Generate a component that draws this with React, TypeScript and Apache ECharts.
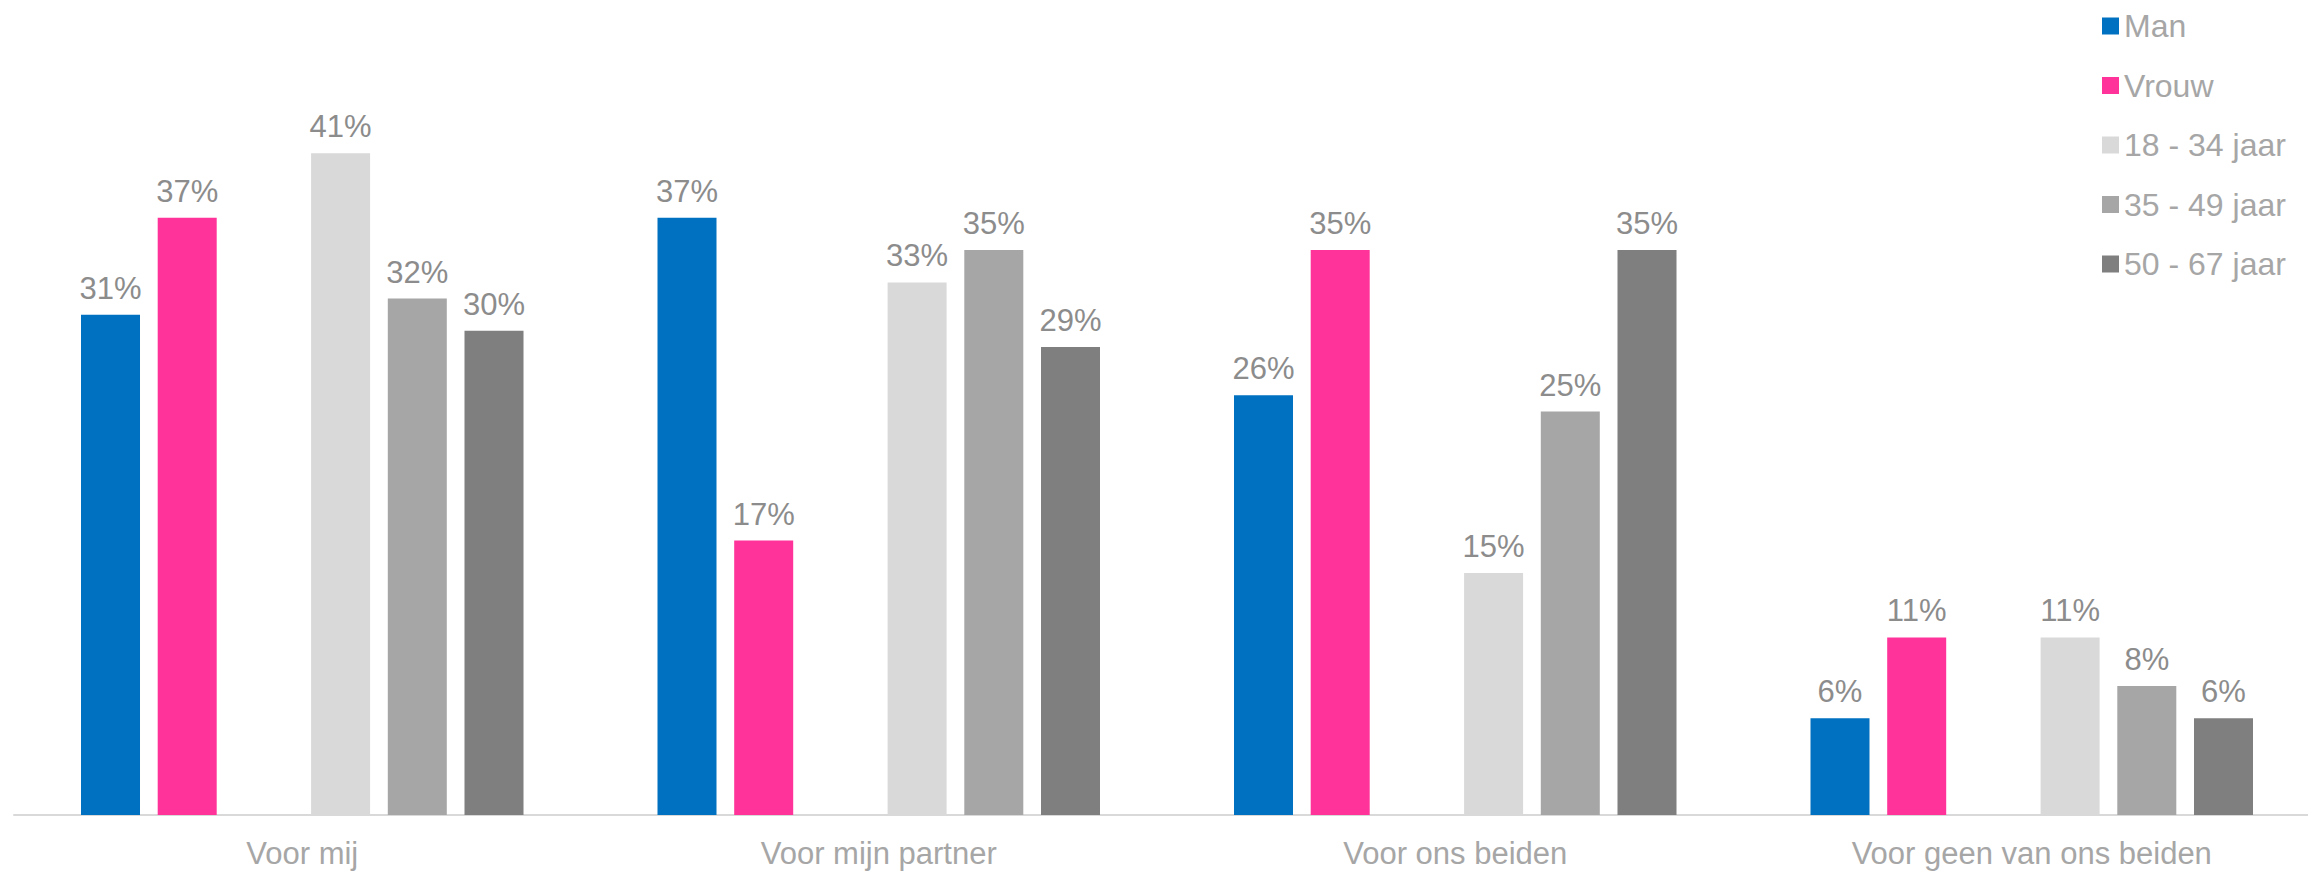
import React, { useEffect, useRef } from "react";
import * as echarts from "echarts";

const categories = ["Voor mij", "Voor mijn partner", "Voor ons beiden", "Voor geen van ons beiden"];
const seriesNames = ["Man", "Vrouw", "18 - 34 jaar", "35 - 49 jaar", "50 - 67 jaar"];
const seriesColors = ["#0070C0", "#FF3399", "#D9D9D9", "#A6A6A6", "#7F7F7F"];
const man = [31, 37, 26, 6];
const vrouw = [37, 17, 35, 11];
const age18to34 = [41, 33, 15, 11];
const age35to49 = [32, 35, 25, 8];
const age50to67 = [30, 29, 35, 6];
const spacer = [null, null, null, null];

const FONT = "'Liberation Sans', Arial, sans-serif";

export default function App() {
  const ref = useRef<HTMLDivElement>(null);

  useEffect(() => {
    if (!ref.current) return;
    const chart = echarts.init(ref.current, null, { renderer: "svg" });

    const label = {
      show: true,
      position: "top",
      distance: 11,
      formatter: "{c}%",
      color: "#8C8C8C",
      fontSize: 31,
      fontFamily: FONT,
    };
    const bar = (name: string, data: (number | null)[], color: string) => ({
      name,
      type: "bar",
      data,
      barWidth: 59,
      barGap: "30%",
      itemStyle: { color },
      label,
    });

    chart.setOption({
      animation: false,
      textStyle: { fontFamily: FONT },
      legend: {
        data: seriesNames,
        orient: "vertical",
        left: 2097,
        top: 5,
        itemWidth: 17,
        itemHeight: 17,
        itemGap: 27.5,
        icon: "rect",
        textStyle: { color: "#A6A6A6", fontSize: 32, fontFamily: FONT },
      },
      grid: { left: 14, top: 8, width: 2306, bottom: 56, containLabel: false },
      xAxis: {
        type: "category",
        data: categories,
        axisTick: { show: false },
        axisLine: { lineStyle: { color: "#D9D9D9", width: 2 } },
        axisLabel: { color: "#A6A6A6", fontSize: 31, fontFamily: FONT, margin: 23 },
      },
      yAxis: {
        type: "value",
        min: 0,
        max: 50,
        show: false,
        splitLine: { show: false },
      },
      series: [
        bar(seriesNames[0], man, seriesColors[0]),
        bar(seriesNames[1], vrouw, seriesColors[1]),
        bar("spacer", spacer, "#FFFFFF"),
        bar(seriesNames[2], age18to34, seriesColors[2]),
        bar(seriesNames[3], age35to49, seriesColors[3]),
        bar(seriesNames[4], age50to67, seriesColors[4]),
      ],
    });

    return () => chart.dispose();
  }, []);

  // The canvas runs a little past the right edge so the last category keeps its full width.
  return (
    <div
      ref={ref}
      style={{ position: "fixed", left: 0, top: 0, width: 2330, height: 871, background: "#FFFFFF" }}
    />
  );
}
